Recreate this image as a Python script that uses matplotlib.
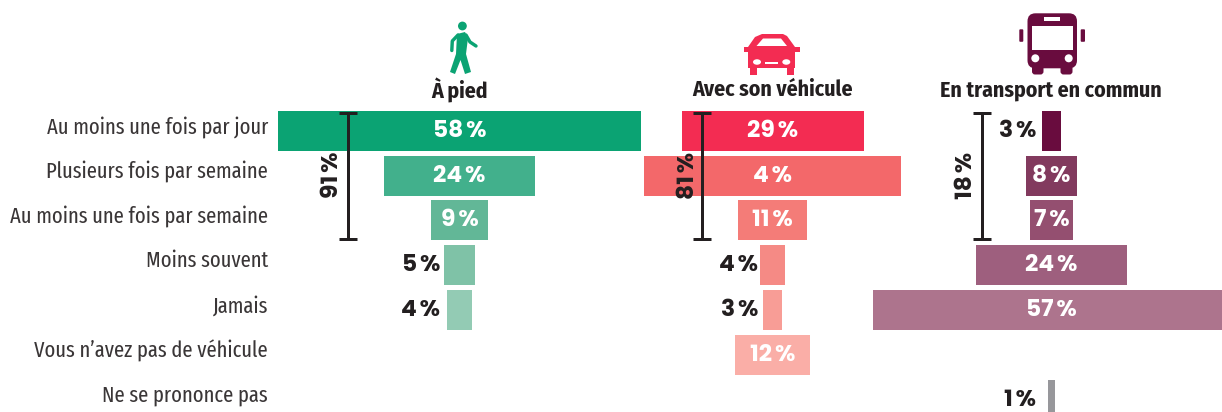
import matplotlib

matplotlib.use("Agg")
import matplotlib.pyplot as plt
from matplotlib.patches import Circle, Ellipse, FancyBboxPatch, Polygon, Rectangle

categories = [
    "Au moins une fois par jour",
    "Plusieurs fois par semaine",
    "Au moins une fois par semaine",
    "Moins souvent",
    "Jamais",
    "Vous n’avez pas de véhicule",
    "Ne se prononce pas",
]
walk_values = [58, 24, 9, 5, 4, None, None]
car_values = [29, 41, 11, 4, 3, 12, None]
transit_values = [3, 8, 7, 24, 57, None, 1]

# the source prints "4 %" on the 41 wide car bar, the bracket says 81 %
walk_labels = ["58", "24", "9", "5", "4", None, None]
car_labels = ["29", "4", "11", "4", "3", "12", None]
transit_labels = ["3", "8", "7", "24", "57", None, "1"]

walk_colors = ["#0BA373", "#42B08C", "#62B797", "#7FC2A7", "#93CBB4", None, None]
car_colors = ["#F32C52", "#F3686A", "#F47C78", "#F58A85", "#F89D96", "#FAAEA7", None]
transit_colors = ["#690C3E", "#823A5E", "#944F70", "#9E5F7E", "#AD748D", None, "#97979B"]

titles = ["À pied", "Avec son véhicule", "En transport en commun"]
totals = ["91", "81", "18"]

DARK = "#231F20"
WIDTH, HEIGHT = 1222, 412
PX_PER_PCT = 6.27
ROW_STEP = 44.8
ROW0_Y = 130.7
NARROW = ["Fira Sans Extra Condensed", "Fira Sans Condensed", "Roboto", "DejaVu Sans"]
TITLE_FONT = ["Fira Sans Condensed", "Roboto", "DejaVu Sans"]
HEAVY = ["Poppins", "Lato", "DejaVu Sans"]
plt.rcParams["font.family"] = NARROW


def px_width(px):
    return px * 0.72


def draw_panel(fig, center, label_right, values, labels, colors):
    ax = fig.add_axes([0, 0, 1, 1], facecolor="none")
    ax.set_xlim(-center / PX_PER_PCT, (WIDTH - center) / PX_PER_PCT)
    ax.set_ylim((HEIGHT - ROW0_Y) / ROW_STEP, -ROW0_Y / ROW_STEP)
    ax.axis("off")
    for row, (value, label, color) in enumerate(zip(values, labels, colors)):
        if value is None:
            continue
        ax.barh(row, value, left=-value / 2, height=40 / ROW_STEP, color=color, linewidth=0)
        text = label + "\u2009%"
        text_y = row - 2.5 / ROW_STEP
        if value > 5:
            ax.text(0, text_y, text, color="white", ha="center", va="center_baseline",
                    fontsize=16.8, family=HEAVY, fontweight="bold")
        else:
            ax.text((label_right - center) / PX_PER_PCT, text_y, text, color=DARK, ha="right",
                    va="center_baseline", fontsize=16.8, family=HEAVY, fontweight="bold")
    return ax


def draw_bracket(ax, x, label, label_x):
    ax.plot([x, x], [112.5, 238.5], color=DARK, lw=px_width(3), solid_capstyle="butt")
    for y in (112.5, 238.5):
        ax.plot([x - 9, x + 9], [y, y], color=DARK, lw=px_width(3), solid_capstyle="butt")
    ax.text(label_x, 175, label + "\u2009%", rotation=90, color=DARK, ha="center", va="center",
            fontsize=16.8, family=HEAVY, fontweight="bold")


def draw_walker(ax, color):
    ax.add_patch(Circle((462.4, 26), 4.4, color=color, lw=0))
    ax.add_patch(Polygon([(457, 34), (465, 32), (468, 38), (466, 54), (471, 72), (465, 74),
                          (460.5, 60), (455, 74), (450, 72), (456, 54)], color=color, lw=0))
    ax.plot([458, 452.3, 451.8], [35, 41, 50.5], color=color, lw=px_width(3.4), solid_capstyle="round")
    ax.plot([466, 470, 476], [35, 42, 46], color=color, lw=px_width(3.4), solid_capstyle="round")


def draw_car(ax, color):
    ax.add_patch(Rectangle((744, 46.5), 55.5, 5, color=color, lw=0))
    ax.add_patch(Polygon([(762, 34), (783, 34), (787, 36), (795, 47), (795, 68), (748, 68),
                          (748, 47), (755, 37)], color=color, lw=0))
    ax.add_patch(Rectangle((750, 66), 7, 8.5, color=color, lw=0))
    ax.add_patch(Rectangle((786.5, 66), 7, 8.5, color=color, lw=0))
    ax.add_patch(Polygon([(756.5, 46), (763, 38.5), (781, 38.5), (787, 46)], color="white", lw=0))
    ax.add_patch(Ellipse((757, 62), 8, 5.5, color="white", lw=0))
    ax.add_patch(Ellipse((786.3, 62), 8, 5.5, color="white", lw=0))
    ax.add_patch(Rectangle((765, 62), 13, 2, color="white", lw=0))


def draw_bus(ax, color):
    ax.add_patch(FancyBboxPatch((1027.5, 13.3), 49.5, 55, boxstyle="round,pad=0,rounding_size=8",
                                color=color, lw=0))
    ax.add_patch(FancyBboxPatch((1032, 62), 11.5, 12.5, boxstyle="round,pad=0,rounding_size=3",
                                color=color, lw=0))
    ax.add_patch(FancyBboxPatch((1060.5, 62), 12, 12.5, boxstyle="round,pad=0,rounding_size=3",
                                color=color, lw=0))
    ax.add_patch(FancyBboxPatch((1019.3, 29.3), 4, 12.5, boxstyle="round,pad=0,rounding_size=1",
                                color=color, lw=0))
    ax.add_patch(FancyBboxPatch((1080.7, 29.3), 4.3, 12.5, boxstyle="round,pad=0,rounding_size=1",
                                color=color, lw=0))
    ax.add_patch(Rectangle((1031.7, 25.7), 41, 24.3, color="white", lw=0))
    ax.add_patch(Rectangle((1044, 17.3), 16, 4, color="white", lw=0))
    ax.add_patch(Circle((1035.3, 58.3), 4, color="white", lw=0))
    ax.add_patch(Circle((1068.7, 58.3), 4, color="white", lw=0))


def main() -> None:
    fig = plt.figure(figsize=(WIDTH / 100, HEIGHT / 100), dpi=100)

    draw_panel(fig, 459.5, 440, walk_values, walk_labels, walk_colors)
    draw_panel(fig, 772.7, 758, car_values, car_labels, car_colors)
    draw_panel(fig, 1051.5, 1036, transit_values, transit_labels, transit_colors)

    # overlay in pixels for the icons, brackets and text around the bars
    over = fig.add_axes([0, 0, 1, 1], facecolor="none")
    over.set_xlim(0, WIDTH)
    over.set_ylim(HEIGHT, 0)
    over.axis("off")

    for row, name in enumerate(categories):
        over.text(268, ROW0_Y + row * ROW_STEP - 4, name, ha="right", va="center",
                  fontsize=16.1, color="#3A3637")

    for x, title in zip([459.5, 772.5, 1051], titles):
        over.text(x, 90, title, ha="center", va="center", fontsize=15.7, fontweight="bold",
                  family=TITLE_FONT, color=DARK)

    draw_bracket(over, 348, totals[0], 332)
    draw_bracket(over, 702, totals[1], 688)
    draw_bracket(over, 981.7, totals[2], 967)

    draw_walker(over, walk_colors[0])
    draw_car(over, car_colors[0])
    draw_bus(over, transit_colors[0])

    fig.savefig("out.png", dpi=100)


if __name__ == "__main__":
    main()
